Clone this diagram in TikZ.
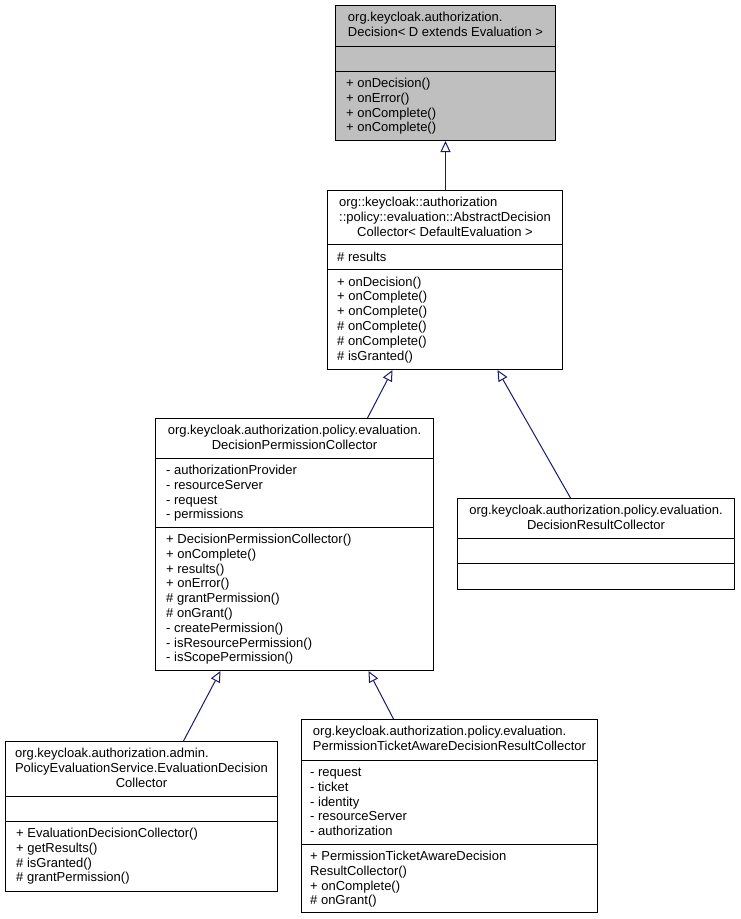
\documentclass[tikz,border=0pt]{standalone}
\usepackage{fontspec}
\setmainfont{Liberation Sans}
\usetikzlibrary{arrows.meta,calc}
\definecolor{edgeblue}{HTML}{191970}
\definecolor{clsgray}{HTML}{BFBFBF}
\newcommand{\clsname}[2]{\begin{tabular}{@{}l@{}}#1\\\multicolumn{1}{@{}c@{}}{#2}\end{tabular}}

\begin{document}
\begin{tikzpicture}[x=1pt, y=-1pt, font=\fontsize{13}{14.8}\selectfont,
	cls/.style={draw, line width=1pt, fill=white, inner sep=0pt, anchor=north west},
	ttl/.style={inner sep=0pt, anchor=north},
	mbr/.style={inner sep=0pt, anchor=north west, align=left},
	inh/.style={draw=edgeblue, line width=1pt, -{Triangle[open, length=11pt, width=10pt]}}]
	\useasboundingbox (0,0) rectangle (740,919);
	% class boxes
	\node[cls, fill=clsgray, minimum width=220pt, minimum height=135pt] (decision) at (335,5) {};
	\node[cls, minimum width=235pt, minimum height=179pt] (abstract) at (327,190) {};
	\node[cls, minimum width=278pt, minimum height=252pt] (perm) at (155,418) {};
	\node[cls, minimum width=277pt, minimum height=91pt] (result) at (457,498) {};
	\node[cls, minimum width=272pt, minimum height=150pt] (evalcol) at (5,741) {};
	\node[cls, minimum width=296pt, minimum height=193pt] (ticket) at (301,719) {};
	% compartment lines
	\foreach \c/\a/\b in {decision/41/66, abstract/54.5/79.5, perm/40/109, result/40/65, evalcol/55/80, ticket/41/125}
		\draw[line width=1pt] ($(\c.north west)+(0,\a)$) -- ($(\c.north east)+(0,\a)$)
			($(\c.north west)+(0,\b)$) -- ($(\c.north east)+(0,\b)$);
	% names
	\node[ttl] (decisionname) at ($(decision.north)+(0,6)$) {\clsname{org.keycloak.authorization.}{Decision< D extends Evaluation >}};
	\node[ttl] (abstractname) at ($(abstract.north)+(0,6)$) {\clsname{org::keycloak::authorization\\::policy::evaluation::AbstractDecision}{Collector< DefaultEvaluation >}};
	\node[ttl] (permname) at ($(perm.north)+(0,6)$) {\clsname{org.keycloak.authorization.policy.evaluation.}{DecisionPermissionCollector}};
	\node[ttl] (resultname) at ($(result.north)+(0,6)$) {\clsname{org.keycloak.authorization.policy.evaluation.}{DecisionResultCollector}};
	\node[ttl] (evalcolname) at ($(evalcol.north)+(0,6)$) {\clsname{org.keycloak.authorization.admin.\\PolicyEvaluationService.EvaluationDecision}{Collector}};
	\node[ttl] (ticketname) at ($(ticket.north)+(0,6)$) {\clsname{org.keycloak.authorization.policy.evaluation.}{PermissionTicketAwareDecisionResultCollector}};
	% members
	\node[mbr] (decisionops) at ($(decision.north west)+(11,72)$) {\strut+ onDecision()\\+ onError()\\+ onComplete()\\+ onComplete()};
	\node[mbr] (abstractattr) at ($(abstract.north west)+(10,60.5)$) {\strut\# results};
	\node[mbr] (abstractops) at ($(abstract.north west)+(10,85.5)$) {\strut+ onDecision()\\+ onComplete()\\+ onComplete()\\\# onComplete()\\\# onComplete()\\\# isGranted()};
	\node[mbr] (permattr) at ($(perm.north west)+(11,46)$) {\strut- authorizationProvider\\- resourceServer\\- request\\- permissions};
	\node[mbr] (permops) at ($(perm.north west)+(11,115)$) {\strut+ DecisionPermissionCollector()\\+ onComplete()\\+ results()\\+ onError()\\\# grantPermission()\\\# onGrant()\\- createPermission()\\- isResourcePermission()\\- isScopePermission()};
	\node[mbr] (evalcolops) at ($(evalcol.north west)+(11,86)$) {\strut+ EvaluationDecisionCollector()\\+ getResults()\\\# isGranted()\\\# grantPermission()};
	\node[mbr] (ticketattr) at ($(ticket.north west)+(9,47)$) {\strut- request\\- ticket\\- identity\\- resourceServer\\- authorization};
	\node[mbr] (ticketops) at ($(ticket.north west)+(9,131)$) {\strut+ PermissionTicketAwareDecision\\ResultCollector()\\+ onComplete()\\\# onGrant()};
	% inheritance
	\draw[inh] (abstract.north -| decision.south) -- (decision.south);
	\draw[inh] ($(perm.north)+(73,0)$) -- ($(abstract.south)+(-52.5,0)$);
	\draw[inh] ($(result.north)+(-25.5,0)$) -- ($(abstract.south)+(52.5,0)$);
	\draw[inh] ($(evalcol.north)+(42,0)$) -- ($(perm.south)+(-74,0)$);
	\draw[inh] ($(ticket.north)+(-56,0)$) -- ($(perm.south)+(74,0)$);
\end{tikzpicture}
\end{document}
